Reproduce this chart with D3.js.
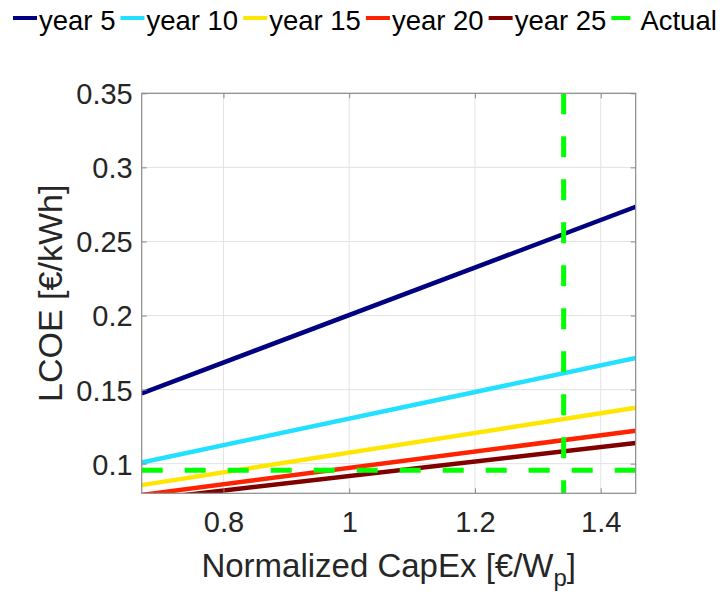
<!DOCTYPE html>
<html>
<head>
<meta charset="utf-8">
<script src="https://cdn.jsdelivr.net/npm/d3@7"></script>
<style>
  html, body { margin: 0; padding: 0; background: #fff; }
  svg { display: block; font-family: "Liberation Sans", Arial, Helvetica, sans-serif; }
</style>
</head>
<body>
<svg id="chart" width="725" height="598"></svg>
<script>
// Normalized CapEx values at which each LCOE line is evaluated
const capex = [0.67, 1.4556];

// LCOE [€/kWh] per financing horizon, at the CapEx values above
const seriesNames = ["year 5", "year 10", "year 15", "year 20", "year 25"];
const year5  = [0.1474, 0.2734];
const year10 = [0.1008, 0.1713];
const year15 = [0.0855, 0.1377];
const year20 = [0.0789, 0.1222];
const year25 = [0.0755, 0.1140];
const seriesColors = ["#000080", "#22e0ff", "#ffe600", "#ff2200", "#800000"];

// Actual operating point
const actualCapex = 1.341;
const actualLcoe = 0.0955;
const actualColor = "#00ff00";

// Axis ticks
const xTicks = [0.8, 1, 1.2, 1.4];
const yTicks = [0.1, 0.15, 0.2, 0.25, 0.3, 0.35];
const xDomain = [0.67, 1.4556];
const yDomain = [0.08, 0.35];

const series = [year5, year10, year15, year20, year25];

const svg = d3.select("#chart");
const m = { left: 141.7, top: 93.3, right: 725 - 635.7, bottom: 598 - 493.3 };
const W = 725 - m.left - m.right;
const H = 598 - m.top - m.bottom;

const x = d3.scaleLinear().domain(xDomain).range([0, W]);
const y = d3.scaleLinear().domain(yDomain).range([H, 0]);

const g = svg.append("g").attr("transform", `translate(${m.left},${m.top})`);

// grid
g.append("g").selectAll("line").data(xTicks).join("line")
  .attr("x1", d => x(d)).attr("x2", d => x(d)).attr("y1", 0).attr("y2", H)
  .attr("stroke", "#e3e3e3").attr("stroke-width", 1);
g.append("g").selectAll("line").data(yTicks).join("line")
  .attr("y1", d => y(d)).attr("y2", d => y(d)).attr("x1", 0).attr("x2", W)
  .attr("stroke", "#e3e3e3").attr("stroke-width", 1);

// plotting region clip
svg.append("defs").append("clipPath").attr("id", "plotclip")
  .append("rect").attr("x", 0).attr("y", 0).attr("width", W).attr("height", H);

const plot = g.append("g").attr("clip-path", "url(#plotclip)");
const line = d3.line().x(d => x(d[0])).y(d => y(d[1]));

series.forEach((vals, i) => {
  plot.append("path")
    .datum(capex.map((c, k) => [c, vals[k]]))
    .attr("d", line)
    .attr("fill", "none")
    .attr("stroke", seriesColors[i])
    .attr("stroke-width", 4.5);
});

// actual point crosshair (dashed)
plot.append("line")
  .attr("x1", x(xDomain[0])).attr("x2", x(xDomain[1]))
  .attr("y1", y(actualLcoe)).attr("y2", y(actualLcoe))
  .attr("stroke", actualColor).attr("stroke-width", 5)
  .attr("stroke-dasharray", "21,22");
plot.append("line")
  .attr("x1", x(actualCapex)).attr("x2", x(actualCapex))
  .attr("y1", y(yDomain[1])).attr("y2", y(yDomain[0]))
  .attr("stroke", actualColor).attr("stroke-width", 5)
  .attr("stroke-dasharray", "21,22");

// axes (box with inward ticks on all sides)
const tickLen = 5;
const axisColor = "#8a8a8a";
const labelColor = "#262626";

const xb = g.append("g").attr("transform", `translate(0,${H})`)
  .call(d3.axisBottom(x).tickValues(xTicks).tickSizeInner(-tickLen).tickSizeOuter(0)
    .tickPadding(20).tickFormat(d3.format("")));
const xt = g.append("g")
  .call(d3.axisTop(x).tickValues(xTicks).tickSizeInner(-tickLen).tickSizeOuter(0).tickFormat(""));
const yl = g.append("g")
  .call(d3.axisLeft(y).tickValues(yTicks).tickSizeInner(-tickLen).tickSizeOuter(0)
    .tickPadding(10).tickFormat(d3.format("")));
const yr = g.append("g").attr("transform", `translate(${W},0)`)
  .call(d3.axisRight(y).tickValues(yTicks).tickSizeInner(-tickLen).tickSizeOuter(0).tickFormat(""));

[xb, xt, yl, yr].forEach(a => {
  a.select(".domain").remove();
  a.selectAll(".tick line").attr("stroke", axisColor);
  a.selectAll("text").attr("fill", labelColor).attr("font-size", 29)
    .attr("font-family", "\"Liberation Sans\", Arial, sans-serif");
});
xb.selectAll("text").attr("dy", "0.71em").attr("y", 18);
yl.selectAll("text").attr("dy", "0.36em").attr("x", -9);

g.append("rect").attr("x", 0).attr("y", 0).attr("width", W).attr("height", H)
  .attr("fill", "none").attr("stroke", axisColor).attr("stroke-width", 1.2);

// axis titles
const xLabel = svg.append("text")
  .attr("x", m.left + W / 2).attr("y", 577)
  .attr("text-anchor", "middle").attr("font-size", 33).attr("fill", labelColor);
xLabel.append("tspan").text("Normalized CapEx [€/W");
xLabel.append("tspan").text("p").attr("font-size", 24).attr("dy", 9);
xLabel.append("tspan").text("]").attr("dy", -9);

svg.append("text")
  .attr("transform", `translate(62,${m.top + H / 2}) rotate(-90)`)
  .attr("text-anchor", "middle").attr("font-size", 34).attr("fill", labelColor)
  .text("LCOE [€/kWh]");

// legend
const legendItems = seriesNames.map((n, i) => ({ name: n, color: seriesColors[i], dash: null }))
  .concat([{ name: "Actual", color: actualColor, dash: "19,30" }]);
let lx = 13;
const ly = 18;
legendItems.forEach((it) => {
  const ln = svg.append("line")
    .attr("x1", lx).attr("x2", lx + 24).attr("y1", ly).attr("y2", ly)
    .attr("stroke", it.color).attr("stroke-width", 4);
  if (it.dash) ln.attr("stroke-dasharray", it.dash);
  const tx = lx + (it.dash ? 29 : 26);
  const t = svg.append("text").attr("x", tx).attr("y", 30)
    .attr("font-size", 27.5).attr("fill", "#000").text(it.name);
  lx = tx + t.node().getComputedTextLength() + 5;
});
</script>
</body>
</html>
